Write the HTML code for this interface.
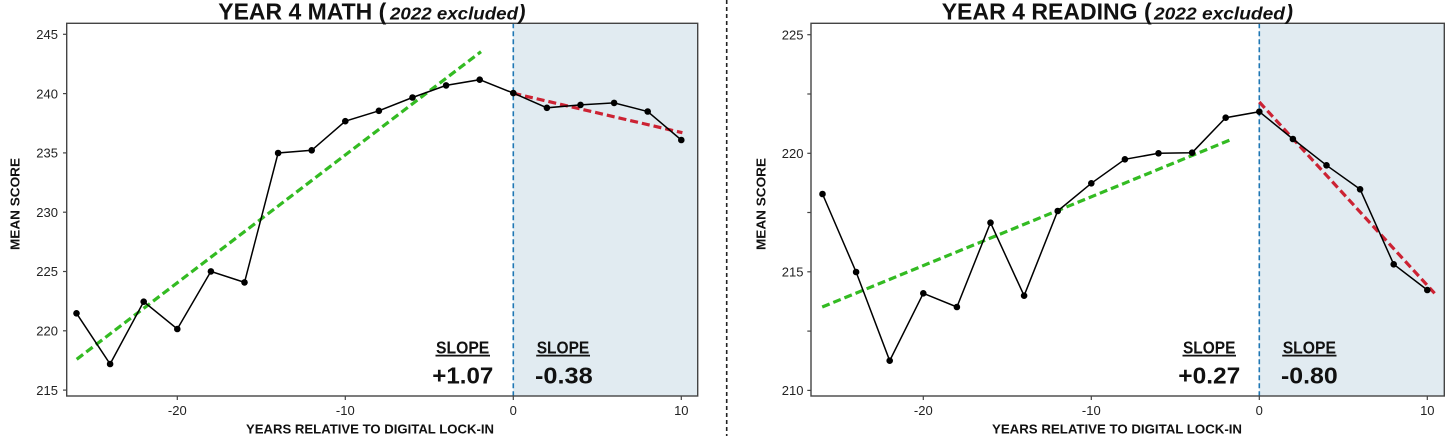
<!DOCTYPE html>
<html><head><meta charset="utf-8"><style>
html,body{margin:0;padding:0;background:#fff;}
svg{display:block;}
text{font-family:"Liberation Sans",sans-serif;}
</style></head><body>
<svg width="1456" height="436" viewBox="0 0 1456 436" xmlns="http://www.w3.org/2000/svg">
<rect width="1456" height="436" fill="#fff"/>

<!-- ===== LEFT CHART ===== -->
<rect x="513.3" y="23.3" width="184.4" height="372.7" fill="#e1ebf1"/>
<line x1="513.3" y1="23.3" x2="513.3" y2="396" stroke="#1f77b4" stroke-width="1.6" stroke-dasharray="5,3"/>
<!-- trend lines -->
<line x1="76.7" y1="359.3" x2="481" y2="51.7" stroke="#33bb22" stroke-width="3.2" stroke-dasharray="8,4"/>
<line x1="513.3" y1="93.3" x2="682.4" y2="132.7" stroke="#cc2233" stroke-width="3.2" stroke-dasharray="8,4"/>
<!-- data -->
<polyline fill="none" stroke="#000" stroke-width="1.5" points="76.5,313.3 110.1,364 143.7,301.7 177.3,329 210.9,271.4 244.5,282.4 278.1,153 311.7,150.3 345.3,121.2 378.9,110.8 412.5,97.5 446.1,85.4 479.7,79.7 513.3,93.1 546.9,107.8 580.5,104.9 614.1,102.9 647.7,111.5 681.3,140"/>
<g fill="#000">
<circle cx="76.5" cy="313.3" r="3.3"/><circle cx="110.1" cy="364" r="3.3"/><circle cx="143.7" cy="301.7" r="3.3"/><circle cx="177.3" cy="329" r="3.3"/><circle cx="210.9" cy="271.4" r="3.3"/><circle cx="244.5" cy="282.4" r="3.3"/><circle cx="278.1" cy="153" r="3.3"/><circle cx="311.7" cy="150.3" r="3.3"/><circle cx="345.3" cy="121.2" r="3.3"/><circle cx="378.9" cy="110.8" r="3.3"/><circle cx="412.5" cy="97.5" r="3.3"/><circle cx="446.1" cy="85.4" r="3.3"/><circle cx="479.7" cy="79.7" r="3.3"/><circle cx="513.3" cy="93.1" r="3.3"/><circle cx="546.9" cy="107.8" r="3.3"/><circle cx="580.5" cy="104.9" r="3.3"/><circle cx="614.1" cy="102.9" r="3.3"/><circle cx="647.7" cy="111.5" r="3.3"/><circle cx="681.3" cy="140" r="3.3"/>
</g>
<!-- frame -->
<rect x="66.7" y="23.3" width="631" height="372.7" fill="none" stroke="#444" stroke-width="1.4"/>
<!-- y ticks -->
<g stroke="#444" stroke-width="1.2">
<line x1="63" y1="34.3" x2="66.7" y2="34.3"/><line x1="63" y1="93.6" x2="66.7" y2="93.6"/><line x1="63" y1="152.9" x2="66.7" y2="152.9"/><line x1="63" y1="212.2" x2="66.7" y2="212.2"/><line x1="63" y1="271.5" x2="66.7" y2="271.5"/><line x1="63" y1="330.8" x2="66.7" y2="330.8"/><line x1="63" y1="390.1" x2="66.7" y2="390.1"/>
<line x1="177.3" y1="396" x2="177.3" y2="400"/><line x1="345.3" y1="396" x2="345.3" y2="400"/><line x1="513.3" y1="396" x2="513.3" y2="400"/><line x1="681.3" y1="396" x2="681.3" y2="400"/>
</g>
<g font-size="13" fill="#222" text-anchor="end">
<text x="58" y="39">245</text><text x="58" y="98.3">240</text><text x="58" y="157.6">235</text><text x="58" y="216.9">230</text><text x="58" y="276.2">225</text><text x="58" y="335.5">220</text><text x="58" y="394.8">215</text>
</g>
<g font-size="13" fill="#222" text-anchor="middle">
<text x="177.3" y="415">-20</text><text x="345.3" y="415">-10</text><text x="513.3" y="415">0</text><text x="681.3" y="415">10</text>
</g>
<text x="370" y="433.5" font-size="13" font-weight="bold" fill="#111" text-anchor="middle" textLength="248" lengthAdjust="spacingAndGlyphs">YEARS RELATIVE TO DIGITAL LOCK-IN</text>
<text transform="translate(19.3,204) rotate(-90)" font-size="13" font-weight="bold" fill="#111" text-anchor="middle" textLength="92" lengthAdjust="spacingAndGlyphs">MEAN SCORE</text>
<!-- title -->
<text x="218.3" y="19.3" font-size="23" font-weight="bold" fill="#111" textLength="168" lengthAdjust="spacingAndGlyphs">YEAR 4 MATH (</text>
<text x="390" y="19.3" font-size="17.5" font-weight="bold" font-style="italic" fill="#111" textLength="128" lengthAdjust="spacingAndGlyphs">2022 excluded</text>
<text x="518.5" y="19.3" font-size="21" font-weight="bold" font-style="italic" fill="#111">)</text>
<!-- slopes -->
<text x="436" y="353.3" font-size="17.5" font-weight="bold" fill="#111" textLength="53.3" lengthAdjust="spacingAndGlyphs">SLOPE</text>
<line x1="435.5" y1="355.6" x2="490" y2="355.6" stroke="#111" stroke-width="1.8"/>
<text x="432.3" y="383.3" font-size="23" font-weight="bold" fill="#111" textLength="61" lengthAdjust="spacingAndGlyphs">+1.07</text>
<text x="536.7" y="353.3" font-size="17.5" font-weight="bold" fill="#111" textLength="52.6" lengthAdjust="spacingAndGlyphs">SLOPE</text>
<line x1="536.2" y1="355.6" x2="590" y2="355.6" stroke="#111" stroke-width="1.8"/>
<text x="535" y="383.3" font-size="23" font-weight="bold" fill="#111" textLength="57.7" lengthAdjust="spacingAndGlyphs">-0.38</text>

<!-- divider -->
<line x1="726.7" y1="0" x2="726.7" y2="436" stroke="#222" stroke-width="1.6" stroke-dasharray="4,3"/>

<!-- ===== RIGHT CHART ===== -->
<rect x="1259.3" y="23.3" width="185" height="372.7" fill="#e1ebf1"/>
<line x1="1259.3" y1="23.3" x2="1259.3" y2="396" stroke="#1f77b4" stroke-width="1.6" stroke-dasharray="5,3"/>
<line x1="822.2" y1="307" x2="1231.7" y2="139.3" stroke="#33bb22" stroke-width="3.2" stroke-dasharray="8,4"/>
<line x1="1259.3" y1="102" x2="1434.6" y2="293.3" stroke="#cc2233" stroke-width="3.2" stroke-dasharray="8,4"/>
<polyline fill="none" stroke="#000" stroke-width="1.5" points="822.5,194 856.1,272 889.7,360.7 923.3,293.3 956.9,307 990.5,222.7 1024.1,295.7 1057.7,211 1091.3,183.3 1124.9,159.3 1158.5,153.3 1192.1,152.7 1225.7,117.7 1259.3,111.7 1292.9,139 1326.5,165.3 1360.1,189.3 1393.7,264.3 1427.3,290"/>
<g fill="#000">
<circle cx="822.5" cy="194" r="3.3"/><circle cx="856.1" cy="272" r="3.3"/><circle cx="889.7" cy="360.7" r="3.3"/><circle cx="923.3" cy="293.3" r="3.3"/><circle cx="956.9" cy="307" r="3.3"/><circle cx="990.5" cy="222.7" r="3.3"/><circle cx="1024.1" cy="295.7" r="3.3"/><circle cx="1057.7" cy="211" r="3.3"/><circle cx="1091.3" cy="183.3" r="3.3"/><circle cx="1124.9" cy="159.3" r="3.3"/><circle cx="1158.5" cy="153.3" r="3.3"/><circle cx="1192.1" cy="152.7" r="3.3"/><circle cx="1225.7" cy="117.7" r="3.3"/><circle cx="1259.3" cy="111.7" r="3.3"/><circle cx="1292.9" cy="139" r="3.3"/><circle cx="1326.5" cy="165.3" r="3.3"/><circle cx="1360.1" cy="189.3" r="3.3"/><circle cx="1393.7" cy="264.3" r="3.3"/><circle cx="1427.3" cy="290" r="3.3"/>
</g>
<rect x="811" y="23.3" width="633.3" height="372.7" fill="none" stroke="#444" stroke-width="1.4"/>
<g stroke="#444" stroke-width="1.2">
<line x1="807.3" y1="34.7" x2="811" y2="34.7"/><line x1="807.3" y1="94" x2="811" y2="94"/><line x1="807.3" y1="153.3" x2="811" y2="153.3"/><line x1="807.3" y1="212.5" x2="811" y2="212.5"/><line x1="807.3" y1="271.8" x2="811" y2="271.8"/><line x1="807.3" y1="331.1" x2="811" y2="331.1"/><line x1="807.3" y1="390.4" x2="811" y2="390.4"/>
<line x1="923.3" y1="396" x2="923.3" y2="400"/><line x1="1091.3" y1="396" x2="1091.3" y2="400"/><line x1="1259.3" y1="396" x2="1259.3" y2="400"/><line x1="1427.3" y1="396" x2="1427.3" y2="400"/>
</g>
<g font-size="13" fill="#222" text-anchor="end">
<text x="803.5" y="39.4">225</text><text x="803.5" y="158">220</text><text x="803.5" y="276.5">215</text><text x="803.5" y="395.1">210</text>
</g>
<g font-size="13" fill="#222" text-anchor="middle">
<text x="923.3" y="415">-20</text><text x="1091.3" y="415">-10</text><text x="1259.3" y="415">0</text><text x="1427.3" y="415">10</text>
</g>
<text x="1117" y="433.5" font-size="13" font-weight="bold" fill="#111" text-anchor="middle" textLength="250" lengthAdjust="spacingAndGlyphs">YEARS RELATIVE TO DIGITAL LOCK-IN</text>
<text transform="translate(765.7,204) rotate(-90)" font-size="13" font-weight="bold" fill="#111" text-anchor="middle" textLength="92" lengthAdjust="spacingAndGlyphs">MEAN SCORE</text>
<text x="941.7" y="19.3" font-size="23" font-weight="bold" fill="#111" textLength="210" lengthAdjust="spacingAndGlyphs">YEAR 4 READING (</text>
<text x="1154" y="19.3" font-size="17.5" font-weight="bold" font-style="italic" fill="#111" textLength="131" lengthAdjust="spacingAndGlyphs">2022 excluded</text>
<text x="1286" y="19.3" font-size="21" font-weight="bold" font-style="italic" fill="#111">)</text>
<text x="1183" y="353.3" font-size="17.5" font-weight="bold" fill="#111" textLength="52.4" lengthAdjust="spacingAndGlyphs">SLOPE</text>
<line x1="1182.5" y1="355.6" x2="1236" y2="355.6" stroke="#111" stroke-width="1.8"/>
<text x="1178.3" y="383.3" font-size="23" font-weight="bold" fill="#111" textLength="62" lengthAdjust="spacingAndGlyphs">+0.27</text>
<text x="1282.7" y="353.3" font-size="17.5" font-weight="bold" fill="#111" textLength="53.3" lengthAdjust="spacingAndGlyphs">SLOPE</text>
<line x1="1282.2" y1="355.6" x2="1336.5" y2="355.6" stroke="#111" stroke-width="1.8"/>
<text x="1281" y="383.3" font-size="23" font-weight="bold" fill="#111" textLength="56.7" lengthAdjust="spacingAndGlyphs">-0.80</text>
</svg>
</body></html>
